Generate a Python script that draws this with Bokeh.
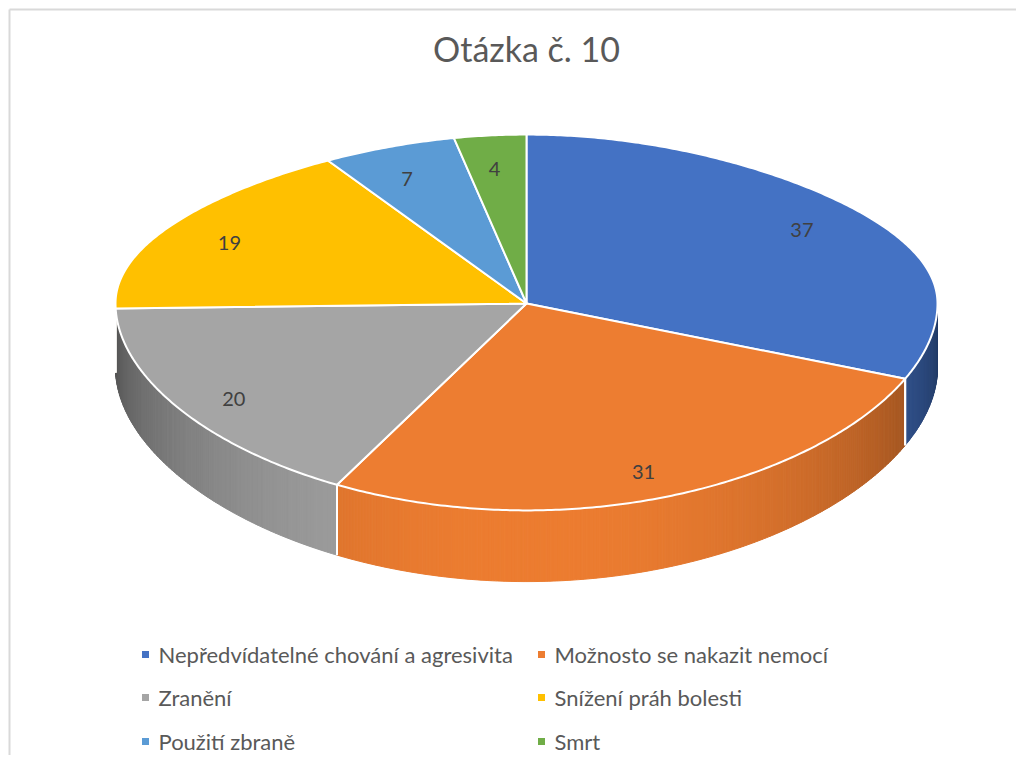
import numpy as np
from bokeh.plotting import figure
from bokeh.models import Range1d
from bokeh.core.properties import value
from bokeh.embed import file_html
from bokeh.resources import INLINE

# ---- data ----
title_text = "Otázka č. 10"
categories = ["Nepředvídatelné chování a agresivita", "Možnosto se nakazit nemocí",
              "Zranění", "Snížení práh bolesti", "Použití zbraně", "Smrt"]
values = [37, 31, 20, 19, 7, 4]
colors = ["#4472C4", "#ED7D31", "#A5A5A5", "#FFC000", "#5B9BD5", "#70AD47"]

# ---- layout ----
W, H = 1016, 755
cx, cy = 526.0, 303.0      # pie centre (top face)
A, B = 411.0, 186.0        # radii of projected circle
K = 0.101                  # vertical perspective factor
KX = 0.207                 # horizontal foreshortening of the back half
D = 64.0                   # thickness
LABEL_R = 0.84
LABEL_DY = 9.0

p = figure(width=W, height=H, output_backend="svg", toolbar_location=None,
           x_range=Range1d(0, W), y_range=Range1d(H, 0), min_border=0)
p.axis.visible = False
p.grid.visible = False
p.outline_line_color = None
p.background_fill_color = "white"
p.border_fill_color = "white"

# chart frame (top and left edges visible)
p.multi_line([[9, 9], [9, W + 20]], [[H + 20, 9], [9, 9]],
             line_color="#D9D9D9", line_width=2)


def proj(t, r=1.0):
    t = np.asarray(t, dtype=float)
    s = np.sin(t)
    w = 1.0 / (1.0 + K * r * s)
    wx = 1.0 / (1.0 + KX * (np.maximum(s, 0.0) * r) ** 2)
    x = cx + A * r * np.cos(t) * wx
    y = cy - B * r * s * w
    return x, y, w


def hex2rgb(h):
    h = h.lstrip("#")
    return [int(h[i:i + 2], 16) for i in (0, 2, 4)]


def shade(h, f):
    r, g, b = hex2rgb(h)
    return "#%02x%02x%02x" % tuple(int(max(0, min(255, c * f))) for c in (r, g, b))


total = float(sum(values))
starts, ends = [], []
a = np.pi / 2
for v in values:
    starts.append(a)
    a = a - 2 * np.pi * v / total
    ends.append(a)

# ---- side walls (front half only) ----
sx, sy, sc = [], [], []
bound_x, bound_y = [], []
for i, (a0, a1) in enumerate(zip(starts, ends)):
    hi = min(a0, 0.0)
    lo = max(a1, -np.pi)
    if hi <= lo:
        continue
    n = max(2, int((hi - lo) / 0.008))
    ts = np.linspace(hi, lo, n + 1)
    for j in range(n):
        t0, t1 = ts[j], ts[j + 1]
        x0, y0, w0 = proj(t0)
        x1, y1, w1 = proj(t1)
        sx.append([x0, x1, x1, x0])
        sy.append([y0, y1, y1 + D * w1, y0 + D * w0])
        tm = 0.5 * (t0 + t1)
        sc.append(shade(colors[i], 0.5 + 0.5 * (-np.sin(tm))))
    for tb in (a0, a1):
        if -np.pi < tb < -0.05:
            xb, yb, wb = proj(tb)
            bound_x.append([float(xb), float(xb)])
            bound_y.append([float(yb), float(yb + D * wb)])

p.patches(sx, sy, fill_color=sc, line_color=sc, line_width=1)
p.multi_line(bound_x, bound_y, line_color="white", line_width=2)

# ---- top faces ----
tx, ty = [], []
for a0, a1 in zip(starts, ends):
    n = max(4, int(abs(a0 - a1) / 0.01))
    ts = np.linspace(a0, a1, n + 1)
    x, y, _ = proj(ts)
    tx.append([cx] + list(x))
    ty.append([cy] + list(y))
p.patches(tx, ty, fill_color=colors, line_color="white", line_width=2,
          line_join="round")

# ---- data labels ----
mids = [0.5 * (a0 + a1) for a0, a1 in zip(starts, ends)]
lx, ly, _ = proj(np.array(mids), LABEL_R)
p.text(x=list(lx), y=list(ly + LABEL_DY), text=[str(v) for v in values],
       text_font=value("Lato"), text_font_size="20px", text_color="#404040",
       text_align="center", text_baseline="middle")

# ---- title ----
p.text(x=[cx], y=[48], text=[title_text], text_font=value("Lato"),
       text_font_size="34px", text_color="#595959",
       text_align="center", text_baseline="middle")

# ---- legend ----
col_x = [145, 541]
row_y = [654, 697, 741]
mx, my, lgx, lgy = [], [], [], []
for i, c in enumerate(categories):
    col, row = i % 2, i // 2
    mx.append(col_x[col])
    my.append(row_y[row])
    lgx.append(col_x[col] + 13)
    lgy.append(row_y[row])
p.rect(x=mx, y=my, width=7, height=7, fill_color=colors, line_color=None)
p.text(x=lgx, y=lgy, text=categories, text_font=value("Lato"),
       text_font_size="22px", text_color="#595959",
       text_align="left", text_baseline="middle")

open("out.html", "w").write(file_html(p, INLINE))
